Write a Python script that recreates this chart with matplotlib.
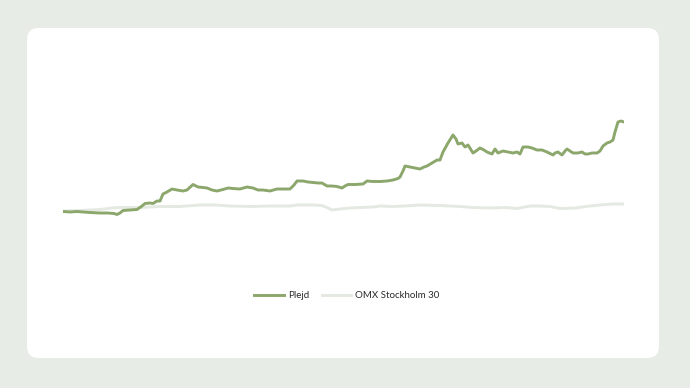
import matplotlib
matplotlib.use("Agg")
import matplotlib.pyplot as plt
from matplotlib.patches import FancyBboxPatch

# development since start (%)
plejd_days = [0, 7, 14, 20, 27, 37, 45, 51, 54, 57, 60, 67, 74, 79, 82, 87, 90, 94, 97, 100,
              104, 109, 114, 120, 124, 130, 135, 140, 144, 149, 154, 160, 165, 170, 177, 184,
              190, 195, 200, 207, 214, 220, 227, 231, 234, 240, 245, 250, 255, 259, 264, 269,
              274, 279, 282, 285, 292, 300, 304, 310, 317, 324, 330, 335, 337, 340, 342, 347,
              352, 357, 361, 364, 369, 374, 377, 380, 385, 390, 393, 395, 399, 402, 405, 410,
              413, 417, 421, 424, 429, 432, 435, 440, 445, 450, 454, 457, 460, 465, 469, 474,
              479, 484, 490, 492, 495, 499, 502, 504, 507, 510, 515, 519, 522, 525, 529, 534,
              537, 540, 544, 547, 550, 552, 555, 558, 561]
plejd = [0, -1, 0, -1, -2, -3, -3, -4, -6, -3, 2, 3, 4, 11, 16, 17, 16, 21, 21, 35,
         39, 45, 43, 41, 43, 54, 49, 48, 47, 43, 41, 44, 47, 46, 45, 49, 47, 43, 43, 41,
         45, 45, 45, 53, 61, 61, 59, 58, 57, 57, 51, 51, 50, 47, 51, 54, 54, 55, 61, 60,
         60, 61, 63, 66, 69, 81, 91, 89, 87, 85, 89, 91, 97, 103, 103, 119, 137, 153, 145,
         135, 137, 129, 133, 117, 121, 127, 123, 119, 115, 125, 117, 121, 119, 117, 119, 115,
         129, 129, 127, 123, 123, 119, 113, 117, 119, 113, 121, 125, 121, 117, 117, 119, 115,
         115, 117, 117, 121, 131, 137, 139, 143, 159, 179, 181, 179]

omx_days = [0, 17, 37, 54, 77, 97, 117, 130, 137, 152, 167, 187, 207, 227, 234, 250, 259,
            264, 269, 277, 287, 297, 310, 317, 330, 342, 357, 377, 397, 410, 427, 442, 454,
            467, 477, 487, 497, 512, 527, 537, 549, 561]
omx = [1, 2, 4, 8, 8, 10, 10, 12, 13, 13, 11, 10, 11, 11, 13, 13, 12, 8, 3, 5, 7, 8, 9,
       11, 10, 11, 13, 12, 10, 8, 7, 8, 6, 11, 11, 10, 6, 7, 11, 13, 15, 15]

names = ["Plejd", "OMX Stockholm 30"]
colors = ["#8ca76c", "#e4e9e1"]

plt.rcParams['font.family'] = ['Lato', 'DejaVu Sans']

fig = plt.figure(figsize=(6.9, 3.88), dpi=100, facecolor="#e8ece6")

# white card with rounded corners, drawn in pixel units
bg = fig.add_axes([0, 0, 1, 1])
bg.set_xlim(0, 690)
bg.set_ylim(388, 0)
bg.axis("off")
bg.add_patch(FancyBboxPatch((27, 28), 632, 330, boxstyle="round,pad=0,rounding_size=12",
                            facecolor="white", edgecolor="none"))

ax = fig.add_axes([63 / 690, 128 / 388, 561 / 690, 220 / 388])
ax.patch.set_alpha(0)
ax.plot(omx_days, omx, color=colors[1], lw=2.1, label=names[1], solid_joinstyle="round")
ax.plot(plejd_days, plejd, color=colors[0], lw=2.1, label=names[0], solid_joinstyle="round")
ax.set_xlim(0, 561)
ax.set_ylim(-97, 343)
ax.axis("off")

handles, labels = ax.get_legend_handles_labels()
leg = fig.legend(handles[::-1], labels[::-1], loc="center", bbox_to_anchor=(347 / 690, 1 - 296 / 388),
                 ncol=2, frameon=False, fontsize=7, handlelength=3.0, handletextpad=0.45,
                 columnspacing=1.3, labelcolor="#2b2b2b")

fig.savefig("out.png", dpi=100, facecolor=fig.get_facecolor())
